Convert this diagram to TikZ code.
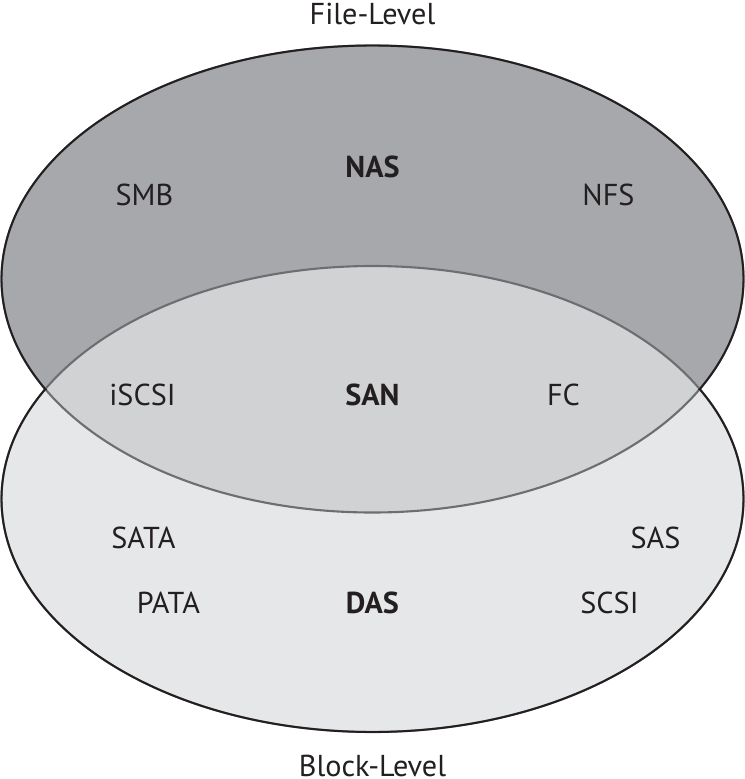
\documentclass[tikz,border=0pt]{standalone}
\usepackage{fontspec}
\setmainfont{PT Sans}
\definecolor{nasfill}{HTML}{A7A8AB}
\definecolor{sanfill}{HTML}{D1D2D4}
\definecolor{dasfill}{HTML}{E6E7E8}
\definecolor{inkline}{HTML}{231F20}
\definecolor{midline}{HTML}{6D6E71}
\begin{document}
\begin{tikzpicture}[
  outerline/.style={draw=inkline, line width=0.55pt},
  innerline/.style={draw=midline, line width=0.6pt},
  lbl/.style={font=\fontsize{8.6}{10}\selectfont, text=inkline, inner sep=0pt},
  title/.style={lbl, font=\fontsize{8.6}{10}\selectfont\bfseries},
]
  \useasboundingbox (-3.725,-3.90) rectangle (3.725,3.89);

  % Fills
  \fill[nasfill] (0,1.1) ellipse [x radius=3.71, y radius=2.335];
  \fill[dasfill] (0,-1.1) ellipse [x radius=3.71, y radius=2.33];
  \begin{scope}
    \clip (0,1.1) ellipse [x radius=3.71, y radius=2.335];
    \fill[sanfill] (0,-1.1) ellipse [x radius=3.71, y radius=2.33];
  \end{scope}

  % Inner outlines
  \draw[innerline] (0,1.1) ellipse [x radius=3.71, y radius=2.335];
  \draw[innerline] (0,-1.1) ellipse [x radius=3.71, y radius=2.33];

  % Outer outlines
  \begin{scope}
    \clip (-4,0) rectangle (4,4);
    \draw[outerline] (0,1.1) ellipse [x radius=3.71, y radius=2.335];
  \end{scope}
  \begin{scope}
    \clip (-4,0) rectangle (4,-4);
    \draw[outerline] (0,-1.1) ellipse [x radius=3.71, y radius=2.33];
  \end{scope}

  % Levels
  \node[lbl] (file) at (0,3.75) {File-Level};
  \node[lbl] (block) at (0,-3.765) {Block-Level};

  % NAS
  \node[title] (nas) at (0,2.22) {NAS};
  \node[lbl] (smb) at (-2.28,1.94) {SMB};
  \node[lbl] (nfs) at (2.36,1.94) {NFS};

  % SAN
  \node[title] (san) at (0,-0.06) {SAN};
  \node[lbl] (iscsi) at (-2.30,-0.06) {iSCSI};
  \node[lbl] (fc) at (1.91,-0.06) {FC};

  % DAS
  \node[title] (das) at (0,-2.14) {DAS};
  \node[lbl] (sata) at (-2.29,-1.49) {SATA};
  \node[lbl] (sas) at (2.83,-1.49) {SAS};
  \node[lbl] (pata) at (-2.04,-2.14) {PATA};
  \node[lbl] (scsi) at (2.37,-2.14) {SCSI};
\end{tikzpicture}
\end{document}
